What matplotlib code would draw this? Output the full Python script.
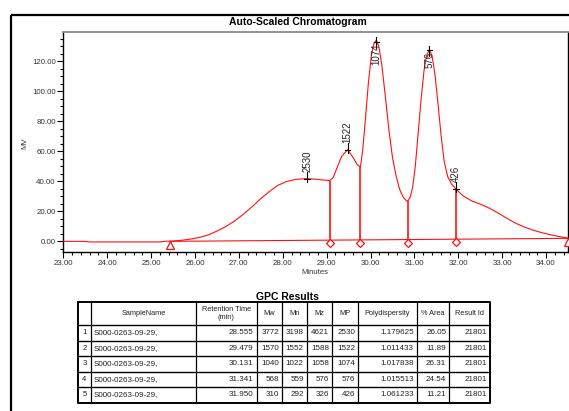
import matplotlib
matplotlib.use("Agg")
import matplotlib.pyplot as plt
import numpy as np
from matplotlib.ticker import MultipleLocator, FormatStrFormatter

plt.rcParams['font.family'] = ['Liberation Sans', 'DejaVu Sans']

# ---- detector trace (retention time in minutes, signal in mV) ----
time = [23.00, 23.50, 23.60, 24.50, 25.20, 25.30, 25.50, 25.70, 25.90, 26.10,
        26.30, 26.50, 26.70, 26.90, 27.10, 27.30, 27.50, 27.70, 27.90, 28.10,
        28.30, 28.55, 28.80, 28.95, 29.07, 29.15, 29.25, 29.35, 29.48, 29.60,
        29.70, 29.77, 29.82, 29.88, 29.95, 30.02, 30.08, 30.13, 30.19, 30.26,
        30.34, 30.42, 30.50, 30.58, 30.66, 30.74, 30.82, 30.85, 30.90, 30.96,
        31.02, 31.08, 31.15, 31.22, 31.28, 31.34, 31.40, 31.47, 31.54, 31.61,
        31.68, 31.76, 31.85, 31.95, 32.10, 32.30, 32.50, 32.70, 32.90, 33.10,
        33.30, 33.50, 33.70, 33.90, 34.10, 34.30, 34.50]
signal = [0.0, 0.0, -0.4, -0.4, -0.4, 0.0, 0.2, 0.7, 1.5, 2.6,
          4.3, 6.8, 9.8, 13.5, 18.0, 23.0, 28.5, 33.3, 37.5, 40.0,
          41.3, 41.8, 41.3, 40.8, 40.5, 42.5, 50.0, 57.0, 61.0, 56.0,
          51.0, 49.7, 60.0, 80.0, 105.0, 124.0, 132.0, 134.0, 130.0, 117.0,
          96.0, 74.0, 56.0, 44.0, 35.0, 29.5, 27.0, 27.0, 29.0, 36.0,
          50.0, 70.0, 94.0, 114.0, 124.0, 127.5, 124.0, 111.0, 91.0, 70.0,
          53.0, 43.0, 38.0, 34.8, 30.5, 27.0, 24.8, 22.2, 19.0, 15.5,
          12.2, 9.6, 7.5, 5.8, 4.4, 3.2, 2.2]

# integration baseline (start / end)
base_t = [25.43, 34.50]
base_v = [0.0, 2.0]

# drop lines separating the slices
drop_times = [29.07, 29.77, 30.85, 31.95]
drop_heights = [40.5, 49.7, 27.0, 34.8]

# peak apex heights used for the MP labels
peak_heights = [41.5, 61.0, 133.0, 127.5, 34.8]

# ---- GPC results table ----
row_index = ['1', '2', '3', '4', '5']
sample_names = ['S000-0263-09-29,'] * 5
retention_times = [28.555, 29.479, 30.131, 31.341, 31.950]
mw = [3772, 1570, 1040, 568, 310]
mn = [3198, 1552, 1022, 559, 292]
mz = [4621, 1588, 1058, 576, 326]
mp = [2530, 1522, 1074, 576, 426]
polydispersity = [1.179625, 1.011433, 1.017838, 1.015513, 1.061233]
pct_area = [26.05, 11.89, 26.31, 24.54, 11.21]
result_id = [21801, 21801, 21801, 21801, 21801]
headers = ['', 'SampleName', 'Retention Time\n(min)', 'Mw', 'Mn', 'Mz', 'MP',
           'Polydispersity', '% Area', 'Result Id']

W, H = 569, 411
fig = plt.figure(figsize=(W / 100, H / 100), dpi=100)
fig.patch.set_facecolor('white')


def px_rect(x0, y0, x1, y1):
    return [x0 / W, 1 - y1 / H, (x1 - x0) / W, (y1 - y0) / H]


RED = '#ff1010'
ax = fig.add_axes(px_rect(63.3, 32, 568, 252))
ax.plot(time, signal, color=RED, lw=0.8, zorder=3)
ax.plot(base_t, base_v, color=RED, lw=0.8, zorder=3)

base_at_drop = np.interp(drop_times, base_t, base_v)
ax.vlines(drop_times, base_at_drop, drop_heights, color=RED, lw=1.2, zorder=3)
ax.plot(drop_times, base_at_drop - 2.2, 'D', ms=4.5, mfc='white', mec=RED,
        mew=0.9, zorder=4, clip_on=False)
ax.plot(base_t, np.array(base_v) - 2.4, '^', ms=5.5, mfc='white', mec=RED,
        mew=0.9, zorder=4, clip_on=False)

ax.set_xlim(23.0, 34.5)
ax.set_ylim(-7.1, 139.5)

# MP labels at each peak apex
ytop = 139.5
for t, h, m in zip(retention_times, peak_heights, mp):
    label = str(m)
    if h + 22 < ytop:
        ax.plot([t, t], [h - 2, h + 4.5], color='black', lw=0.8, zorder=5)
        ax.text(t, h + 4.5, label, rotation=90, ha='center', va='bottom',
                fontsize=7, color='#222222', zorder=6)
    else:
        ax.plot([t, t], [h - 4, h + 3], color='black', lw=0.8, zorder=5)
        ax.text(t, h - 1, label, rotation=90, ha='center', va='top',
                fontsize=7, color='#222222', zorder=6)
    ax.plot([t - 0.06, t + 0.06], [h, h], color='black', lw=0.8, zorder=5)

ax.xaxis.set_major_locator(MultipleLocator(1))
ax.xaxis.set_minor_locator(MultipleLocator(0.2))
ax.yaxis.set_major_locator(MultipleLocator(20))
ax.yaxis.set_minor_locator(MultipleLocator(5))
ax.xaxis.set_major_formatter(FormatStrFormatter('%.2f'))
ax.yaxis.set_major_formatter(FormatStrFormatter('%.2f'))
ax.tick_params(which='major', direction='out', length=4, width=0.8,
               labelsize=5.7, pad=1.5, colors='black', labelcolor='#333333')
ax.tick_params(which='minor', direction='out', length=2, width=0.8)
for side in ['left', 'bottom', 'right']:
    ax.spines[side].set_color('black')
    ax.spines[side].set_linewidth(1.0)
ax.spines['top'].set_color('#8a8a8a')
ax.spines['top'].set_linewidth(1.3)

fig.text(298 / W, 1 - 22 / H, 'Auto-Scaled Chromatogram', ha='center',
         va='center', fontsize=7.5, weight='bold')
fig.text(315 / W, 1 - 272 / H, 'Minutes', ha='center', va='center',
         fontsize=5.5, color='#333333')
fig.text(25 / W, 1 - 143 / H, 'MV', ha='center', va='center', rotation=90,
         fontsize=5.5, color='#333333')

# ---- overlay in pixel coordinates: page frame and results table ----
ov = fig.add_axes([0, 0, 1, 1])
ov.set_xlim(0, W)
ov.set_ylim(H, 0)
ov.axis('off')
ov.patch.set_alpha(0)

ov.plot([11, 11], [15, H], color='black', lw=1.6, solid_capstyle='butt')
ov.plot([11, W], [15, 15], color='black', lw=1.6, solid_capstyle='butt')

ov.text(287, 297, 'GPC Results', ha='center', va='center', fontsize=7.5,
        weight='bold')

col_edges = [78.3, 90.7, 196, 256.7, 282.3, 306.7, 332.3, 358, 416.7, 449.3, 490]
row_edges = [302, 325, 340.5, 356, 371.5, 387, 402.5]

for x in col_edges[1:-1]:
    ov.plot([x, x], [row_edges[0], row_edges[-1]], color='black', lw=0.9)
for y in row_edges[1:-1]:
    ov.plot([col_edges[0], col_edges[-1]], [y, y], color='black', lw=1.0)
ov.plot([col_edges[0], col_edges[-1], col_edges[-1], col_edges[0], col_edges[0]],
        [row_edges[0], row_edges[0], row_edges[-1], row_edges[-1], row_edges[0]],
        color='black', lw=1.4)

for j, htext in enumerate(headers):
    cx = (col_edges[j] + col_edges[j + 1]) / 2
    cy = (row_edges[0] + row_edges[1]) / 2
    ov.text(cx, cy, htext, ha='center', va='center', fontsize=5.3,
            color='#222222', linespacing=1.3)

rows = zip(row_index, sample_names, retention_times, mw, mn, mz, mp,
           polydispersity, pct_area, result_id)
for i, r in enumerate(rows):
    cy = (row_edges[i + 1] + row_edges[i + 2]) / 2
    cells = [r[0], r[1], f'{r[2]:.3f}', str(r[3]), str(r[4]), str(r[5]),
             str(r[6]), f'{r[7]:.6f}', f'{r[8]:.2f}', str(r[9])]
    for j, c in enumerate(cells):
        if j == 0:
            ov.text((col_edges[0] + col_edges[1]) / 2, cy, c, ha='center',
                    va='center', fontsize=5.6, color='#222222')
        elif j == 1:
            ov.text(col_edges[1] + 3, cy, c, ha='left', va='center',
                    fontsize=5.8, color='#222222')
        else:
            ov.text(col_edges[j + 1] - 3, cy, c, ha='right', va='center',
                    fontsize=5.8, color='#222222')

fig.savefig('out.png', dpi=100, facecolor='white')
